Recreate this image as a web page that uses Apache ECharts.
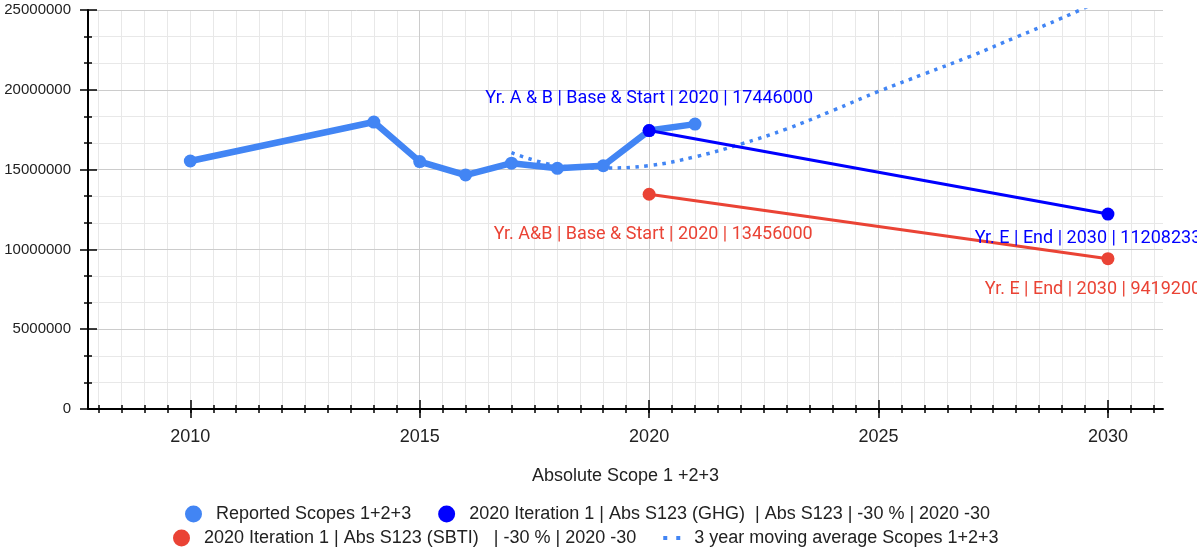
<!DOCTYPE html>
<html>
<head>
    <meta charset="utf-8">
    <title>Absolute Scope 1 +2+3</title>
    <script src="https://cdn.jsdelivr.net/npm/echarts@6/dist/echarts.min.js"></script>
    <style>
        html, body { margin: 0; padding: 0; background: #fff; }
        #main { width: 1197px; height: 553px; }
    </style>
</head>
<body>
<div id="main"></div>
<script>
    // data
    var years = [2010, 2014, 2015, 2016, 2017, 2018, 2019, 2020, 2021];
    var reported = [15540000, 17980000, 15500000, 14660000, 15400000, 15080000, 15240000, 17446000, 17850000];

    var targetYears = [2020, 2030];
    var ghg = [17446000, 12212200];
    var sbti = [13456000, 9419200];
    var ghgLabels = ['Yr. A & B | Base & Start | 2020 | 17446000', 'Yr. E | End | 2030 | 11208233'];
    var sbtiLabels = ['Yr. A&B | Base & Start | 2020 | 13456000', 'Yr. E | End | 2030 | 9419200'];

    var avgYears = [2017, 2018, 2019, 2020, 2021, 2022, 2023, 2024, 2025, 2026, 2027, 2028, 2029, 2030];
    var avgValues = [16060000, 15250000, 15100000, 15250000, 15800000, 16600000, 17550000, 18700000,
        19900000, 21000000, 22100000, 23300000, 24500000, 25800000];

    var xTickLabels = [2010, 2015, 2020, 2025, 2030];

    var names = [
        'Reported Scopes 1+2+3',
        '2020 Iteration 1 | Abs S123 (GHG)  | Abs S123 | -30 % | 2020 -30',
        '2020 Iteration 1 | Abs S123 (SBTI)   | -30 % | 2020 -30',
        '3 year moving average Scopes 1+2+3'
    ];

    var xMin = 2007.77, xMax = 2031.2;
    // half-year minor grid
    var minorX = [];
    for (var t = 2008; t <= 2031; t += 0.5) minorX.push(t);

    function pairs(xs, ys) {
        return xs.map(function (x, i) { return [x, ys[i]]; });
    }

    // label placement per end point: [position, distance, offset]
    var ghgLabelPos = [['top', 17, [0, 0]], ['bottom', 9, [-20, 0]]];
    var sbtiLabelPos = [['bottom', 25, [4, 0]], ['bottom', 15, [-15, 0]]];

    function labelled(xs, ys, texts, pos, color) {
        return xs.map(function (x, i) {
            return {
                value: [x, ys[i]],
                label: {
                    show: true,
                    position: pos[i][0],
                    distance: pos[i][1],
                    offset: pos[i][2],
                    formatter: texts[i],
                    color: color,
                    fontFamily: 'Roboto',
                    fontSize: 18
                }
            };
        });
    }

    function xBase(extra) {
        var o = {
            type: 'value', min: xMin, max: xMax, position: 'bottom',
            axisLine: { show: false }, axisLabel: { show: false },
            splitLine: { show: false }, axisTick: { show: false }
        };
        for (var k in extra) o[k] = extra[k];
        return o;
    }

    var legendText = { fontFamily: 'Liberation Sans', fontSize: 18, color: '#222', padding: [0, 0, 0, 9] };

    var option = {
        animation: false,
        grid: { left: 88, right: 34, top: 10, bottom: 144, outerBoundsMode: 'none' },
        xAxis: [
            // minor grid + minor ticks (outside)
            xBase({
                z: -1,
                splitLine: { show: true, lineStyle: { color: '#e8e8e8', width: 1 } },
                axisTick: { show: true, length: 4, customValues: minorX, lineStyle: { color: '#000', width: 1.5 } }
            }),
            // minor ticks (inside)
            xBase({
                axisTick: { show: true, inside: true, length: 4, customValues: minorX, lineStyle: { color: '#000', width: 1.5 } }
            }),
            // main axis
            xBase({
                name: 'Absolute Scope 1 +2+3',
                nameLocation: 'middle',
                nameGap: 58,
                nameTextStyle: { fontFamily: 'Liberation Sans', fontSize: 18, color: '#222' },
                axisLine: { show: true, onZero: false, lineStyle: { color: '#000', width: 2 } },
                axisTick: { show: true, length: 9, customValues: xTickLabels, lineStyle: { color: '#000', width: 1.5 } },
                axisLabel: {
                    show: true, customValues: xTickLabels, margin: 19,
                    fontFamily: 'Liberation Sans', fontSize: 18, color: '#222',
                    formatter: function (v) { return String(v); }
                },
                splitLine: { show: true, showMinLine: false, showMaxLine: false, lineStyle: { color: '#cccccc', width: 1 } }
            }),
            // main ticks (inside)
            xBase({
                axisTick: { show: true, inside: true, length: 9, customValues: xTickLabels, lineStyle: { color: '#000', width: 1.5 } }
            })
        ],
        yAxis: [
            {
                type: 'value', min: 0, max: 25000000, interval: 5000000, position: 'left',
                axisLine: { show: true, lineStyle: { color: '#000', width: 2 } },
                axisTick: { show: true, length: 8, lineStyle: { color: '#000', width: 1.5 } },
                minorTick: { show: true, splitNumber: 3, length: 4, lineStyle: { color: '#000', width: 1.5 } },
                axisLabel: {
                    margin: 17, fontFamily: 'Liberation Sans', fontSize: 15, color: '#222',
                    formatter: function (v) { return String(v); }
                },
                splitLine: { show: true, lineStyle: { color: '#cccccc', width: 1 } },
                minorSplitLine: { show: true, lineStyle: { color: '#e8e8e8', width: 1 } }
            },
            {
                type: 'value', min: 0, max: 25000000, interval: 5000000, position: 'left',
                axisLine: { show: false },
                axisTick: { show: true, inside: true, length: 9, lineStyle: { color: '#000', width: 1.5 } },
                minorTick: { show: true, splitNumber: 3, length: 4, lineStyle: { color: '#000', width: 1.5 } },
                axisLabel: { show: false },
                splitLine: { show: false }
            }
        ],
        legend: [
            {
                data: [names[0], names[1]],
                left: 185, top: 505, padding: 0,
                itemWidth: 17, itemHeight: 17, itemGap: 27, icon: 'circle',
                textStyle: legendText
            },
            {
                data: [
                    { name: names[2], icon: 'circle' },
                    { name: names[3], icon: 'path://M0,0h4v4h-4z M13,0h4v4h-4z' }
                ],
                left: 173, top: 529, padding: 0,
                itemWidth: 17, itemHeight: 17, itemGap: 27,
                textStyle: legendText
            }
        ],
        series: [
            {
                name: names[0], type: 'line', xAxisIndex: 2, yAxisIndex: 0, z: 3,
                data: pairs(years, reported),
                color: '#4285F4',
                lineStyle: { width: 6.5, color: '#4285F4' },
                symbol: 'circle', symbolSize: 13,
                itemStyle: { color: '#4285F4' }
            },
            {
                name: names[1], type: 'line', xAxisIndex: 2, yAxisIndex: 0, z: 4,
                data: labelled(targetYears, ghg, ghgLabels, ghgLabelPos, '#0000FF'),
                color: '#0000FF',
                lineStyle: { width: 3, color: '#0000FF' },
                symbol: 'circle', symbolSize: 13,
                itemStyle: { color: '#0000FF' }
            },
            {
                name: names[2], type: 'line', xAxisIndex: 2, yAxisIndex: 0, z: 4,
                data: labelled(targetYears, sbti, sbtiLabels, sbtiLabelPos, '#EA4335'),
                color: '#EA4335',
                lineStyle: { width: 3, color: '#EA4335' },
                symbol: 'circle', symbolSize: 13,
                itemStyle: { color: '#EA4335' }
            },
            {
                name: names[3], type: 'line', xAxisIndex: 2, yAxisIndex: 0, z: 2,
                data: pairs(avgYears, avgValues),
                smooth: 0.4,
                showSymbol: false,
                color: '#4285F4',
                itemStyle: { color: '#4285F4' },
                lineStyle: { width: 3.5, color: '#4285F4', type: [3.5, 5.5], cap: 'butt' }
            }
        ]
    };

    var main = echarts.init(document.getElementById('main'));
    main.setOption(option);
</script>
</body>
</html>
